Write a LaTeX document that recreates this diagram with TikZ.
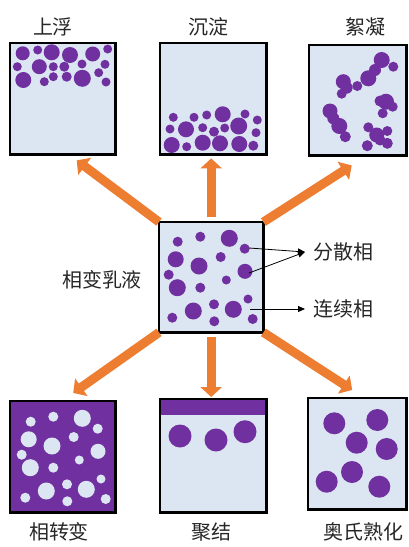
\documentclass[tikz,border=0pt]{standalone}
\usepackage{fontspec}
\setmainfont{Noto Sans CJK SC}
\usetikzlibrary{arrows.meta}
\definecolor{azzurro}{HTML}{DCE6F2}
\definecolor{viola}{HTML}{7030A0}
\definecolor{arancio}{HTML}{ED7D31}
\definecolor{testo}{HTML}{262626}
\newcommand{\gocce}{18.7/19.7/5,41.3/14.7/5,70.3/16.3/8.5,85.7/26.7/5,16.7/37.3/8,40/44/8.5,61.7/35/5,86/49.3/7.5,9.7/52.7/5,18.3/65.7/8.5,41.3/65.7/5,67.3/58/4.5,89/77/4.5,55/82.3/5,34.3/89/8.5,74.3/87.3/8.5,13.3/95.7/5,55.3/99.3/5,93.7/97/5}

\begin{document}
\begin{tikzpicture}[x=1pt,y=-1pt,font=\fontsize{20}{24}\selectfont,text=testo,
box/.style={fill=azzurro,inner sep=0,anchor=north west,minimum width=105pt,minimum height=111pt},
frame/.style={draw=black,line width=2.8pt},
grande/.style={draw=arancio,line width=9pt,-{Triangle[width=21pt,length=10pt]}},
sottile/.style={line width=.8pt,-{Triangle[width=6pt,length=7pt]}},
lab/.style={inner sep=0,outer sep=8pt}]
\useasboundingbox(0,0)rectangle(409,547);
\node[box](flot)at(10,43){};\node[box,minimum width=106pt](sed)at(160,43){};\node[box,minimum width=97pt,minimum height=110pt](floc)at(309,45){};
\node[box,minimum width=104pt,minimum height=110pt](emul)at(159,222){};
\node[box,fill=viola](inv)at(10,401){};\node[box,minimum width=106pt,minimum height=113pt](coal)at(160,399){};\node[box,minimum width=98pt](ost)at(308,398){};
\node(tflot)at(53,27){上浮};\node(tsed)at(208,27){沉淀};\node(tfloc)at(365,27){絮凝};
\node(tinv)at(59,532){相转变};\node(tcoal)at(211,532){聚结};\node(tost)at(363,532){奥氏熟化};
\node(temul)at(102,280){相变乳液};
\node[lab,anchor=west](disp)at(305,252){分散相};\node[lab,anchor=west](cont)at(305,309){连续相};
\foreach \x/\y/\r in {22.7/53.3/7,37.7/50/4.5,51.7/52.3/8,70/55/8,92.7/54/7.5,107.7/49/4.5,17.3/66.7/4.5,39.3/66.7/7.5,53.3/66.7/4.5,64.3/66.7/5,82/64/4.5,105/64.3/4.5,23.3/80/8,44.3/81.7/4.5,53.3/76.7/4.5,66.7/76.7/5,82.3/78.3/8.5,98.7/72.7/4.5,106/82/4.5}\fill[viola](\x,\y)circle(\r);
\foreach \x/\y/\r in {173.3/117.3/4.5,194/117.3/4.5,206.7/115/4.5,222.7/114.3/8,245/114/4.5,257.3/120/4.5,170/129/4.5,186/129.3/8,202.7/127.7/4.5,214/131.7/5,224.7/128/4.5,238.7/126/8.5,256/132.7/4.5,171.7/145/8,186.7/146.7/4.5,202.7/142.7/8,220/143.3/8,239.3/144/8,253.3/145.7/5}\fill[viola](\x,\y)circle(\r);
\foreach \x/\y/\r in {381.7/60/8,393.3/66.7/5,375/70/6,368.3/78.3/8,357.3/86/5,343.3/81.7/7.5,346.7/87.7/6,341.7/93.7/5,386/101.7/8,380/101/5.5,392.7/106.7/5,382.7/113.3/5,330/111/7.5,333.3/118.3/6,339.3/126/8,345.3/136.7/5.5,376.7/135/7.5,368.3/127.3/5,387.3/131/5,367.3/145.7/5.5,387.3/143.3/5.5,380/140/5.5}\fill[viola](\x,\y)circle(\r);
\begin{scope}[shift={(emul.north west)}]\foreach \x/\y/\r in \gocce\fill[viola](\x,\y)circle(\r);\end{scope}
\begin{scope}[shift={(12,402)}]\foreach \x/\y/\r in \gocce\fill[azzurro](\x,\y)circle(\r);\end{scope}
\fill[viola](coal.north west)rectangle([yshift=-16pt]coal.north east);
\foreach \x/\y in {180/436,216/440,245/431.7}\fill[viola](\x,\y)circle(11.5);
\foreach \x/\y in {334.3/423.3,377.3/420,356.7/442.7,386.7/449,352/472,326.7/481.7,379.3/486.7}\fill[viola](\x,\y)circle(11);
\foreach \b in {flot,sed,floc,emul,inv,coal,ost}\draw[frame](\b.north west)rectangle(\b.south east);
\coordinate(g1)at(249,248);\coordinate(g2)at(249,273);\coordinate(g3)at(250,309);
\draw[sottile](g1)--(disp.west);\draw[sottile](g2)--(disp.west);\draw[sottile](g3)--(cont.west);
\draw[grande](emul.north west)--([shift={(14,6)}]flot.south);
\draw[grande,shorten <=5pt,shorten >=4pt](emul.north)--(emul.north|-sed.south);
\draw[grande](emul.north east)--([shift={(-6,10)}]floc.south);
\draw[grande](emul.south west)--([shift={(10.5,-8)}]inv.north);
\draw[grande,shorten <=5pt,shorten >=2pt](emul.south)--(emul.south|-coal.north);
\draw[grande](emul.south east)--([shift={(-5,-8)}]ost.north);
\end{tikzpicture}
\end{document}
